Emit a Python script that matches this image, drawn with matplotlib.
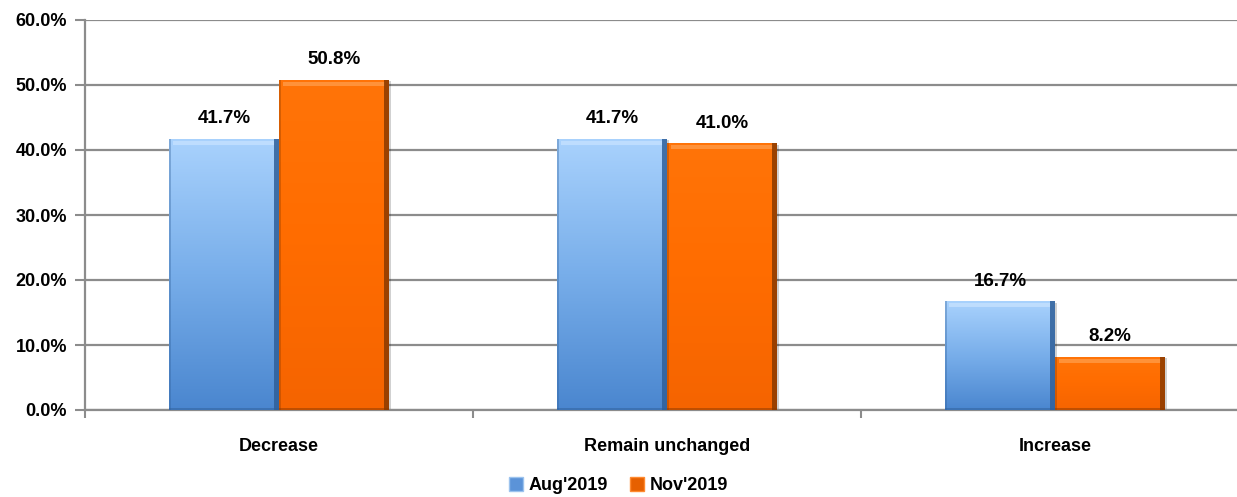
import numpy as np
import matplotlib
matplotlib.use("Agg")
import matplotlib.pyplot as plt
from matplotlib.patches import Patch, Rectangle
from matplotlib.colors import LinearSegmentedColormap
from matplotlib.ticker import FixedLocator, FuncFormatter

categories = ["Decrease", "Remain unchanged", "Increase"]
series_names = ["Aug'2019", "Nov'2019"]
aug_values = [41.7, 41.7, 16.7]
nov_values = [50.8, 41.0, 8.2]
yticks = [0, 10, 20, 30, 40, 50, 60]

plt.rcParams['font.family'] = ['Liberation Sans', 'DejaVu Sans']

W, H = 1237, 497
fig = plt.figure(figsize=(W / 100, H / 100), dpi=100)
ax = fig.add_axes([85 / W, 87 / H, 1164 / W, 390 / H])

x = np.arange(len(categories))
bw = 0.2835

blue_cmap = LinearSegmentedColormap.from_list("b", ["#4a86cf", "#78aeea", "#a9d2fd"])
orange_cmap = LinearSegmentedColormap.from_list("o", ["#f56400", "#ff6c00", "#ff7408"])
edge_dark = {"b": "#2f5f99", "o": "#8a3a00"}
top_light = {"b": "#c9e3ff", "o": "#ffa050"}

grad = np.linspace(0, 1, 256).reshape(-1, 1)

def draw_series(vals, offset, cmap, key):
    bars = ax.bar(x + offset, vals, bw, color="none", edgecolor="none", zorder=3)
    for b in bars:
        x0, w, h = b.get_x(), b.get_width(), b.get_height()
        ax.add_patch(Rectangle((x0 + 0.006, 0), w, h - 0.2, facecolor="#000000",
                               alpha=0.18, edgecolor="none", zorder=2.5))
        im = ax.imshow(grad, cmap=cmap, origin="lower", aspect="auto",
                       extent=[x0, x0 + w, 0, h], zorder=3, interpolation="bilinear")
        im.set_clip_path(b)
        ax.add_patch(Rectangle((x0 + 0.01, h - 0.9), w - 0.02, 0.6, facecolor=top_light[key],
                               alpha=0.7, edgecolor="none", zorder=3.2))
        ax.add_patch(Rectangle((x0 + w - 0.012, 0), 0.012, h, facecolor=edge_dark[key],
                               alpha=0.85, edgecolor="none", zorder=3.3))
        ax.add_patch(Rectangle((x0, 0), 0.006, h, facecolor=edge_dark[key],
                               alpha=0.35, edgecolor="none", zorder=3.3))
        ax.add_patch(Rectangle((x0, 0), w, 0.35, facecolor=edge_dark[key],
                               alpha=0.5, edgecolor="none", zorder=3.3))
        ax.text(x0 + w / 2, h + 1.8, f"{h:.1f}%", ha="center", va="bottom",
                fontsize=13.5, fontweight="bold", color="black", zorder=5)
    return bars

draw_series(aug_values, -bw / 2, blue_cmap, "b")
draw_series(nov_values, bw / 2, orange_cmap, "o")

ax.set_xlim(-0.5, len(categories) - 0.5)
ax.set_ylim(0, 60)
ax.yaxis.set_major_locator(FixedLocator(yticks))
ax.yaxis.set_major_formatter(FuncFormatter(lambda v, p: f"{v:.1f}%"))
ax.grid(axis="y", color="#8c8c8c", linewidth=1.6, zorder=0)
ax.set_axisbelow(True)

ax.set_xticks(x)
ax.set_xticklabels(categories, fontsize=13, fontweight="bold")
ax.tick_params(axis="x", which="major", length=0, pad=20)
ax.set_xticks(np.arange(len(categories) + 1) - 0.5, minor=True)
ax.tick_params(axis="x", which="minor", length=6, width=1.5, color="#8c8c8c", direction="out")
ax.tick_params(axis="y", length=7, width=1.5, color="#8c8c8c", labelsize=13, pad=6)
for lab in ax.get_yticklabels():
    lab.set_fontweight("bold")

for s in ["top", "right"]:
    ax.spines[s].set_visible(False)
for s in ["left", "bottom"]:
    ax.spines[s].set_color("#8c8c8c")
    ax.spines[s].set_linewidth(1.6)

handles = [Patch(facecolor="#5b93d8", edgecolor="#9cc3ee", label=series_names[0]),
           Patch(facecolor="#e66000", edgecolor="#ff8a30", label=series_names[1])]
leg = fig.legend(handles=handles, loc="lower center", bbox_to_anchor=(0.5, 0.0), ncol=2,
                 frameon=False, prop={"weight": "bold", "size": 13},
                 borderaxespad=0.0, borderpad=0.15,
                 handlelength=0.8, handleheight=0.8, handletextpad=0.3, columnspacing=1.2)

fig.savefig("out.png", dpi=100)
